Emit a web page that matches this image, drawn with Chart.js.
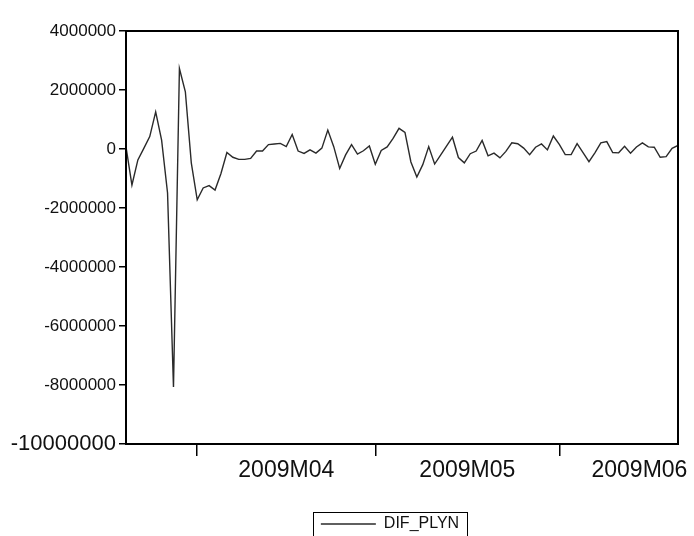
<!DOCTYPE html>
<html>
<head>
<meta charset="utf-8">
<script src="https://cdn.jsdelivr.net/npm/chart.js@4.4.1/dist/chart.umd.min.js"></script>
<style>
  html, body { margin: 0; padding: 0; background: #ffffff; }
  canvas { display: block; }
</style>
</head>
<body>
<canvas id="c" width="694" height="536"></canvas>
<script>
// Series name
const seriesName = 'DIF_PLYN';
// Daily observations 2009-03-20 .. 2009-06-21 (index 0..93)
const difPlyn = [
  70000, -1220000, -370000, 20000, 420000, 1260000, 300000, -1490000, -8070000, 2730000,
  1940000, -470000, -1720000, -1320000, -1240000, -1390000, -830000, -120000, -280000, -350000,
  -350000, -320000, -70000, -70000, 150000, 170000, 190000, 80000, 490000, -70000,
  -150000, -30000, -140000, 30000, 640000, 80000, -660000, -200000, 150000, -170000,
  -60000, 100000, -520000, -50000, 70000, 360000, 700000, 560000, -440000, -950000,
  -530000, 80000, -510000, -210000, 100000, 400000, -290000, -470000, -160000, -70000,
  290000, -230000, -140000, -300000, -80000, 210000, 180000, 30000, -190000, 60000,
  170000, -30000, 440000, 160000, -190000, -190000, 180000, -120000, -430000, -130000,
  210000, 250000, -120000, -130000, 90000, -140000, 70000, 210000, 70000, 60000,
  -280000, -260000, 20000, 120000
];
// Month boundaries (observation index of first day of month) and label positions
const monthBoundaries = [12, 42, 73];
const monthLabels = ['2009M04', '2009M05', '2009M06'];
const monthLabelPos = [27, 57.5, 86.5];
// Y axis ticks
const yTicks = [4000000, 2000000, 0, -2000000, -4000000, -6000000, -8000000, -10000000];

const points = difPlyn.map((v, i) => ({ x: i, y: v }));

const frame = {
  id: 'frame',
  afterLayout(chart) {
    const L = chart.legend;
    if (!L) return;
    const dx = 390 - (L.left + L.right) / 2;
    const dy = 6;
    L.left += dx; L.right += dx; L.top += dy; L.bottom += dy;
  },
  afterDraw(chart) {
    const { ctx, chartArea: a } = chart;
    ctx.save();
    ctx.strokeStyle = '#000';
    ctx.lineWidth = 2;
    ctx.strokeRect(a.left, a.top, a.right - a.left, a.bottom - a.top);
    const hb = chart.legend && chart.legend.legendHitBoxes && chart.legend.legendHitBoxes[0];
    if (hb) {
      ctx.lineWidth = 1;
      ctx.strokeStyle = '#000';
      ctx.strokeRect(Math.round(hb.left - 8) + 0.5, Math.round(hb.top - 4) + 0.5, Math.round(hb.width + 16), 60);
    }
    ctx.restore();
  }
};

new Chart(document.getElementById('c'), {
  type: 'line',
  data: {
    datasets: [{
      label: seriesName,
      data: points,
      borderColor: '#2a2a2a',
      borderWidth: 1.4,
      pointRadius: 0,
      tension: 0,
      fill: false
    }]
  },
  options: {
    responsive: false,
    animation: false,
    layout: { padding: { top: 31, right: 16, left: 0, bottom: 0 } },
    plugins: {
      tooltip: { enabled: false },
      legend: {
        position: 'bottom',
        labels: {
          usePointStyle: true,
          pointStyle: 'line',
          pointStyleWidth: 55,
          boxHeight: 16,
          color: '#111',
          padding: 6,
          font: { family: "'Liberation Sans', Arial, sans-serif", size: 16 }
        }
      }
    },
    scales: {
      x: {
        type: 'linear',
        position: 'bottom',
        min: 0,
        max: 93,
        weight: 0,
        afterBuildTicks(s) { s.ticks = monthBoundaries.map(v => ({ value: v })); },
        afterFit(s) { s.height = 12; },
        ticks: { callback: () => '', padding: 0 },
        grid: { drawOnChartArea: false, drawTicks: true, tickLength: 12, color: '#000', lineWidth: 1.5 },
        border: { display: false }
      },
      x2: {
        type: 'linear',
        position: 'bottom',
        min: 0,
        max: 93,
        weight: 1,
        afterBuildTicks(s) { s.ticks = monthLabelPos.map(v => ({ value: v })); },
        afterFit(s) {
          const lh = s.chart.legend ? s.chart.legend.height : 30;
          s.height = 536 - lh - 444 - 12;
        },
        ticks: {
          autoSkip: false,
          maxRotation: 0,
          padding: 1,
          color: '#111',
          font: { family: "'Liberation Sans', Arial, sans-serif", size: 23 },
          callback: (v) => { const k = monthLabelPos.indexOf(v); return k >= 0 ? monthLabels[k] : ''; }
        },
        grid: { display: false, drawTicks: false },
        border: { display: false }
      },
      y: {
        type: 'linear',
        min: -10000000,
        max: 4000000,
        afterBuildTicks(s) { s.ticks = yTicks.map(v => ({ value: v })); },
        afterFit(s) { s.width = 126; },
        ticks: {
          padding: 3,
          color: '#111',
          font: (ctx) => (ctx.tick && ctx.tick.value === -10000000)
            ? { family: "'Liberation Sans', Arial, sans-serif", size: 22 }
            : { family: "'Liberation Sans', Arial, sans-serif", size: 17 },
          callback: (v) => String(v)
        },
        grid: { drawOnChartArea: false, drawTicks: true, tickLength: 7, color: '#000', lineWidth: 1.5 },
        border: { display: false }
      }
    }
  },
  plugins: [frame]
});
</script>
</body>
</html>
